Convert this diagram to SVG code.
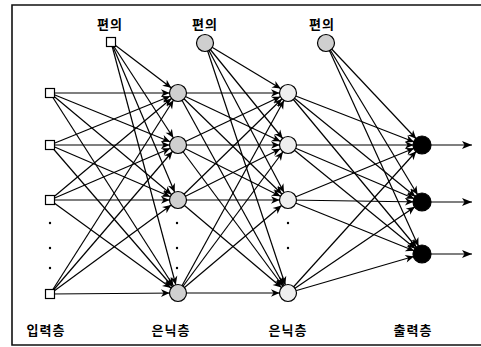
<svg xmlns="http://www.w3.org/2000/svg" width="481" height="347" viewBox="0 0 481 347">
<style>
.frame{fill:none;stroke:#111;stroke-width:1.6}
.c line{stroke:#000;stroke-width:1.2;marker-end:url(#ah)}
.c line.out{marker-end:url(#oa)}
.sq{fill:#fff;stroke:#000;stroke-width:1.2}
.h1{fill:#cfcfcf;stroke:#000;stroke-width:1.2}
.h2{fill:#eeeeee;stroke:#000;stroke-width:1.2}
.o{fill:#000;stroke:#000;stroke-width:1.2}
.dot{fill:#000}
text{font-family:"Noto Sans CJK KR","Noto Sans",sans-serif;font-size:13px;font-weight:bold;fill:#000;text-anchor:middle;letter-spacing:1px}
</style>
<defs>
<marker id="ah" markerUnits="userSpaceOnUse" markerWidth="1" markerHeight="1" refX="0" refY="0" orient="auto" overflow="visible">
<path d="M-8.5,0 L-17,-3.8 L-14.5,0 L-17,3.8 Z" fill="#000"/>
</marker>
<marker id="oa" markerUnits="userSpaceOnUse" markerWidth="1" markerHeight="1" refX="0" refY="0" orient="auto" overflow="visible">
<path d="M0,0 L-10,-4 L-7.5,0 L-10,4 Z" fill="#000"/>
</marker>
</defs>
<rect width="481" height="347" fill="#fff"/>
<polyline class="frame" points="481,5 12,5 12,345 481,345"/>
<g id="connectors" class="c">
<line x1="50" y1="93" x2="178" y2="93"/><line x1="50" y1="93" x2="178" y2="145"/><line x1="50" y1="93" x2="178" y2="200"/><line x1="50" y1="93" x2="178" y2="293"/>
<line x1="50" y1="145" x2="178" y2="93"/><line x1="50" y1="145" x2="178" y2="145"/><line x1="50" y1="145" x2="178" y2="200"/><line x1="50" y1="145" x2="178" y2="293"/>
<line x1="50" y1="200" x2="178" y2="93"/><line x1="50" y1="200" x2="178" y2="145"/><line x1="50" y1="200" x2="178" y2="200"/><line x1="50" y1="200" x2="178" y2="293"/>
<line x1="50" y1="294" x2="178" y2="93"/><line x1="50" y1="294" x2="178" y2="145"/><line x1="50" y1="294" x2="178" y2="200"/><line x1="50" y1="294" x2="178" y2="293"/>
<line x1="111" y1="42" x2="178" y2="93"/><line x1="111" y1="42" x2="178" y2="145"/><line x1="111" y1="42" x2="178" y2="200"/><line x1="111" y1="42" x2="178" y2="293"/>
<line x1="178" y1="93" x2="288" y2="93"/><line x1="178" y1="93" x2="288" y2="145"/><line x1="178" y1="93" x2="288" y2="200"/><line x1="178" y1="93" x2="288" y2="293"/>
<line x1="178" y1="145" x2="288" y2="93"/><line x1="178" y1="145" x2="288" y2="145"/><line x1="178" y1="145" x2="288" y2="200"/><line x1="178" y1="145" x2="288" y2="293"/>
<line x1="178" y1="200" x2="288" y2="93"/><line x1="178" y1="200" x2="288" y2="145"/><line x1="178" y1="200" x2="288" y2="200"/><line x1="178" y1="200" x2="288" y2="293"/>
<line x1="178" y1="293" x2="288" y2="93"/><line x1="178" y1="293" x2="288" y2="145"/><line x1="178" y1="293" x2="288" y2="200"/><line x1="178" y1="293" x2="288" y2="293"/>
<line x1="205" y1="43" x2="288" y2="93"/><line x1="205" y1="43" x2="288" y2="145"/><line x1="205" y1="43" x2="288" y2="200"/><line x1="205" y1="43" x2="288" y2="293"/>
<line x1="288" y1="93" x2="422" y2="145"/><line x1="288" y1="93" x2="422" y2="202"/><line x1="288" y1="93" x2="422" y2="254"/>
<line x1="288" y1="145" x2="422" y2="145"/><line x1="288" y1="145" x2="422" y2="202"/><line x1="288" y1="145" x2="422" y2="254"/>
<line x1="288" y1="200" x2="422" y2="145"/><line x1="288" y1="200" x2="422" y2="202"/><line x1="288" y1="200" x2="422" y2="254"/>
<line x1="288" y1="293" x2="422" y2="145"/><line x1="288" y1="293" x2="422" y2="202"/><line x1="288" y1="293" x2="422" y2="254"/>
<line x1="326" y1="43" x2="422" y2="145"/><line x1="326" y1="43" x2="422" y2="202"/><line x1="326" y1="43" x2="422" y2="254"/>
<line class="out" x1="422" y1="145" x2="472" y2="145"/><line class="out" x1="422" y1="202" x2="472" y2="202"/><line class="out" x1="422" y1="254" x2="472" y2="254"/>
</g>
<g id="bias1"><rect class="sq" x="106.5" y="37.5" width="9" height="9"/><text x="110" y="29">편의</text></g>
<g id="bias2"><circle class="h1" cx="205" cy="43" r="8.5"/><text x="205" y="29">편의</text></g>
<g id="bias3"><circle class="h1" cx="326" cy="43" r="8.5"/><text x="322" y="29">편의</text></g>
<g id="input">
<rect class="sq" x="45.5" y="88.5" width="9" height="9"/>
<rect class="sq" x="45.5" y="140.5" width="9" height="9"/>
<rect class="sq" x="45.5" y="195.5" width="9" height="9"/>
<rect class="sq" x="45.5" y="289.5" width="9" height="9"/>
<circle class="dot" cx="50" cy="223" r="1.2"/><circle class="dot" cx="50" cy="248" r="1.2"/><circle class="dot" cx="50" cy="268" r="1.2"/>
<text x="46" y="335">입력층</text>
</g>
<g id="hidden1">
<circle class="h1" cx="178" cy="93" r="8.5"/>
<circle class="h1" cx="178" cy="145" r="8.5"/>
<circle class="h1" cx="178" cy="200" r="8.5"/>
<circle class="h1" cx="178" cy="293" r="8.5"/>
<circle class="dot" cx="177" cy="223" r="1.2"/><circle class="dot" cx="177" cy="248" r="1.2"/><circle class="dot" cx="177" cy="268" r="1.2"/>
<text x="171" y="335">은닉층</text>
</g>
<g id="hidden2">
<circle class="h2" cx="288" cy="93" r="8.5"/>
<circle class="h2" cx="288" cy="145" r="8.5"/>
<circle class="h2" cx="288" cy="200" r="8.5"/>
<circle class="h2" cx="288" cy="293" r="8.5"/>
<circle class="dot" cx="288" cy="223" r="1.2"/><circle class="dot" cx="288" cy="248" r="1.2"/>
<text x="288" y="335">은닉층</text>
</g>
<g id="output">
<circle class="o" cx="422" cy="145" r="9"/>
<circle class="o" cx="422" cy="202" r="9"/>
<circle class="o" cx="422" cy="254" r="9"/>
<text x="413" y="335">출력층</text>
</g>
</svg>
